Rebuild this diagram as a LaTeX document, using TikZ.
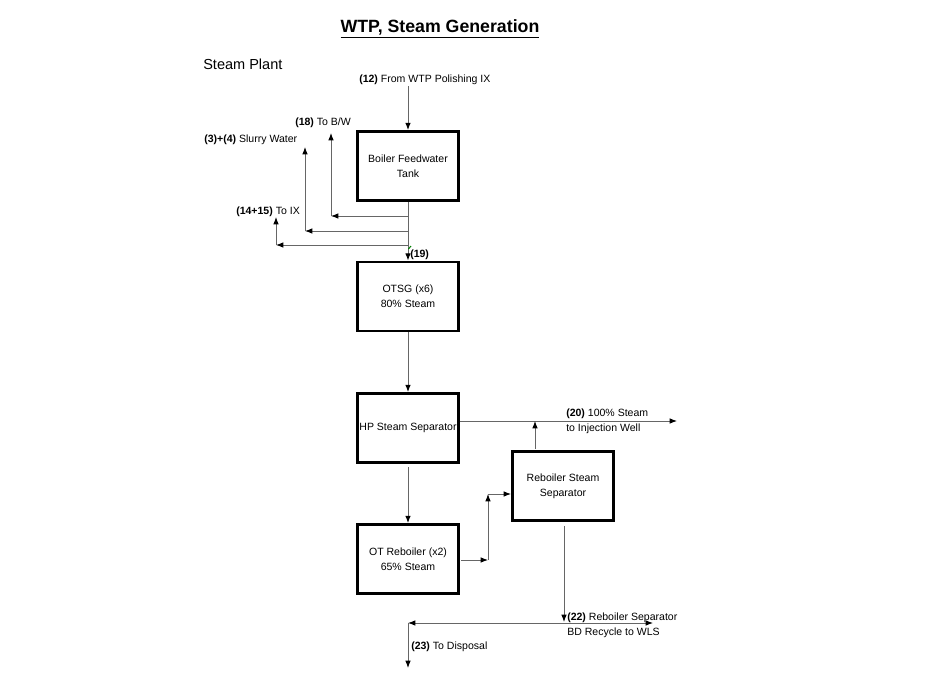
\documentclass[tikz,border=0pt]{standalone}
\usepackage{fontspec}
\setmainfont{Liberation Sans}
\usetikzlibrary{arrows.meta}
\begin{document}
\begin{tikzpicture}[
	x=0.75pt, y=-0.75pt, font=\fontsize{7.9}{11.2}\selectfont,
	line join=miter, >={Latex[length=5.5pt,width=4.2pt,color=black]},
	unit/.style={draw=black, line width=1.8pt, minimum width=76pt, minimum height=52pt, align=center, inner sep=0pt},
	flow/.style={->, draw=black!60, line width=0.75pt},
	tag/.style={anchor=west, inner sep=0pt, align=left}
	]
	\useasboundingbox (0,0) rectangle (933,700);
	\node[font=\fontsize{13.3}{15}\selectfont\bfseries] (title) at (440,29) {\underline{WTP, Steam Generation}};
	\node[tag, font=\fontsize{10.9}{13}\selectfont] (plant) at (203,64) {Steam Plant};
	% units
	\node[unit] (tank) at (408,166) {Boiler Feedwater\\Tank};
	\node[unit] (otsg) at (408,296.5) {OTSG (x6)\\80\% Steam};
	\node[unit] (hp) at (408,428) {HP Steam Separator};
	\node[unit] (otr) at (408,559) {OT Reboiler (x2)\\65\% Steam};
	\node[unit] (rss) at (563,486) {Reboiler Steam\\Separator};
	% feed to tank
	\coordinate (feedIn) at (408,86);
	\draw[flow] (feedIn) -- (tank.north);
	\node[tag] (feedLbl) at (359,80) {\textbf{(12)} From WTP Polishing IX};
	% tank outlet and branches
	\draw[flow] (tank.south) -- (otsg.north);
	\coordinate (bwTee) at (408,216); \coordinate (bwCorner) at (331,216); \coordinate (bwEnd) at (331,133);
	\draw[flow] (bwTee) -- (bwCorner);
	\draw[flow] (bwCorner) -- (bwEnd);
	\node[tag] (bwLbl) at (295,123) {\textbf{(18)} To B/W};
	\coordinate (slTee) at (408,231); \coordinate (slCorner) at (305,231); \coordinate (slEnd) at (305,147);
	\draw[flow] (slTee) -- (slCorner);
	\draw[flow] (slCorner) -- (slEnd);
	\node[tag] (slLbl) at (204,140) {\textbf{(3)+(4)} Slurry Water};
	\coordinate (ixTee) at (408,245); \coordinate (ixCorner) at (276,245); \coordinate (ixEnd) at (276,217);
	\draw[flow] (ixTee) -- (ixCorner);
	\draw[flow] (ixCorner) -- (ixEnd);
	\node[tag] (ixLbl) at (236,212) {\textbf{(14+15)} To IX};
	\draw[green!50!black, line width=0.8pt] (408.5,249) -- (411,246);
	\node[tag] (otsgLbl) at (410,254.5) {\textbf{(19)}};
	% separators
	\draw[flow] (otsg.south) -- (hp.north);
	\draw[flow, shorten <=2.5pt] (hp.south) -- (otr.north);
	\coordinate (hpOut) at (460,421); \coordinate (stmEnd) at (677,421);
	\draw[flow] (hpOut) -- (stmEnd);
	\coordinate (rssTop) at (535,449); \coordinate (rssUp) at (535,421);
	\draw[flow] (rssTop) -- (rssUp);
	\node[tag] (stmLbl) at (566,421.5) {\textbf{(20)} 100\% Steam\\to Injection Well};
	\coordinate (otrOut) at (461,560); \coordinate (otrCorner) at (488,560);
	\coordinate (otrUp) at (488,494); \coordinate (rssIn) at (511,494);
	\draw[flow] (otrOut) -- (otrCorner);
	\draw[flow] (otrCorner) -- (otrUp);
	\draw[flow] (otrUp) -- (rssIn);
	% blowdown
	\coordinate (bdDrop) at (564,622); \coordinate (bdLeft) at (408,623);
	\coordinate (bdRight) at (653,623); \coordinate (dispEnd) at (408,668);
	\draw[flow, shorten <=3pt] (rss.south -| bdDrop) -- (bdDrop);
	\draw[flow, <->] (bdLeft) -- (bdRight);
	\draw[flow] (bdLeft) -- (dispEnd);
	\node[tag] (bdLbl) at (567,625.5) {\textbf{(22)} Reboiler Separator\\BD Recycle to WLS};
	\node[tag] (dispLbl) at (411,647) {\textbf{(23)} To Disposal};
\end{tikzpicture}
\end{document}
